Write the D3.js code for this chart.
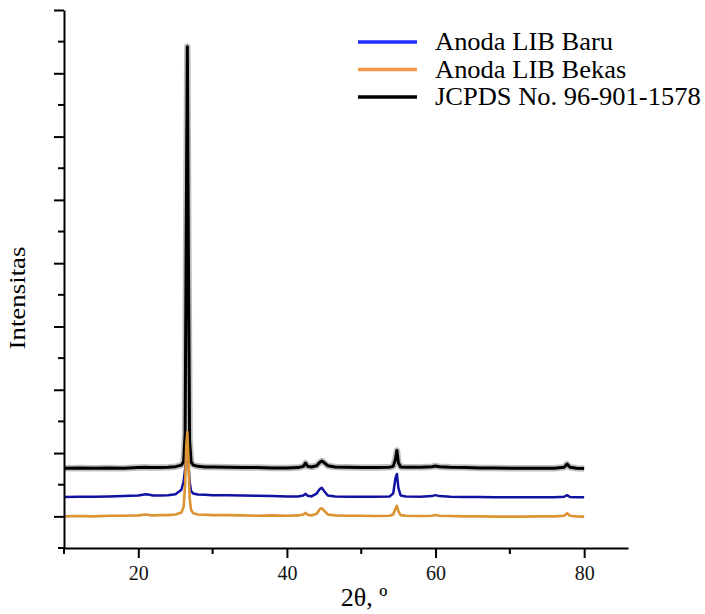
<!DOCTYPE html>
<html>
<head>
<meta charset="utf-8">
<script src="https://cdn.jsdelivr.net/npm/d3@7"></script>
<style>
  body { margin: 0; background: #fff; }
  svg { display: block; }
  svg text { font-family: "Liberation Serif", "Times New Roman", Times, serif; }
</style>
</head>
<body>
<div id="chart"></div>
<script>
// 2θ positions (degrees) shared by all three patterns
const twoTheta = [10, 12, 14, 16, 18, 20, 21, 21.5, 22, 23, 24, 25, 25.8, 26.1, 26.3, 26.45, 26.6, 26.75, 26.9, 27.1, 27.4, 28, 29, 30, 32, 34, 36, 38, 40, 41.5, 42.2, 42.5, 42.8, 43.3, 44, 44.4, 44.7, 45.0, 45.5, 46.5, 48, 50, 52, 53.8, 54.3, 54.6, 54.8, 55.0, 55.3, 56, 58, 59.5, 60, 60.5, 62, 64, 66, 68, 70, 72, 74, 76, 77.3, 77.7, 78.1, 79, 80];

// intensities (arbitrary units, offset stacked)
const jcpds = [0.76, 0.765, 0.76, 0.765, 0.76, 0.77, 0.775, 0.77, 0.77, 0.77, 0.775, 0.785, 0.81, 0.86, 1.3, 4.5, 7.42, 4.0, 1.2, 0.86, 0.81, 0.79, 0.78, 0.78, 0.775, 0.77, 0.77, 0.765, 0.765, 0.77, 0.79, 0.84, 0.79, 0.78, 0.80, 0.85, 0.875, 0.85, 0.80, 0.78, 0.775, 0.77, 0.77, 0.775, 0.79, 0.9, 1.04, 0.85, 0.78, 0.775, 0.775, 0.785, 0.795, 0.785, 0.775, 0.77, 0.765, 0.765, 0.76, 0.76, 0.76, 0.76, 0.775, 0.825, 0.775, 0.76, 0.755];

const baru = [0.305, 0.31, 0.31, 0.315, 0.32, 0.33, 0.35, 0.34, 0.33, 0.33, 0.335, 0.35, 0.42, 0.55, 0.75, 0.95, 1.0, 0.85, 0.55, 0.4, 0.36, 0.345, 0.34, 0.335, 0.335, 0.33, 0.325, 0.32, 0.315, 0.315, 0.33, 0.355, 0.325, 0.315, 0.36, 0.43, 0.45, 0.40, 0.33, 0.315, 0.31, 0.31, 0.31, 0.315, 0.36, 0.6, 0.67, 0.45, 0.33, 0.315, 0.31, 0.32, 0.335, 0.32, 0.31, 0.305, 0.305, 0.3, 0.3, 0.3, 0.3, 0.3, 0.31, 0.335, 0.305, 0.3, 0.3];

const bekas = [0.0, 0.005, 0.0, 0.01, 0.01, 0.015, 0.03, 0.02, 0.015, 0.02, 0.02, 0.03, 0.06, 0.15, 0.5, 1.1, 1.33, 0.9, 0.3, 0.1, 0.05, 0.03, 0.025, 0.02, 0.02, 0.015, 0.01, 0.015, 0.01, 0.015, 0.03, 0.055, 0.025, 0.015, 0.04, 0.11, 0.13, 0.09, 0.03, 0.015, 0.01, 0.01, 0.005, 0.01, 0.03, 0.12, 0.165, 0.08, 0.02, 0.01, 0.005, 0.01, 0.02, 0.01, 0.005, 0.0, 0.0, -0.005, -0.005, -0.005, 0.0, 0.0, 0.01, 0.05, 0.01, 0.0, -0.005];

const legendLabels = ["Anoda LIB Baru", "Anoda LIB Bekas", "JCPDS No. 96-901-1578"];
const xMajorTicks = [20, 40, 60, 80];
const xMinorTicks = [10, 30, 50, 70];

const width = 705, height = 614;
const margin = { top: 10, right: 77, bottom: 66, left: 64 };
const serif = '"Liberation Serif", "Times New Roman", Times, serif';

const svg = d3.select("#chart").append("svg")
  .attr("width", width)
  .attr("height", height);

const x = d3.scaleLinear().domain([10, 85.9]).range([margin.left, width - margin.right]);
const y = d3.scaleLinear().domain([-0.5, 8]).range([height - margin.bottom, margin.top]);

// series: drawn black first, orange on top
const series = [
  { values: jcpds, color: "#000", width: 3, halo: true },
  { values: baru, color: "#1212a2", width: 2.5 },
  { values: bekas, color: "#dc9432", width: 2.6 }
];

const line = d3.line()
  .x((d, i) => x(twoTheta[i]))
  .y(d => y(d));

series.forEach(s => {
  if (s.halo) {
    svg.append("path")
      .attr("d", line(s.values))
      .attr("fill", "none")
      .attr("stroke", "#000")
      .attr("stroke-opacity", 0.25)
      .attr("stroke-width", 6.5)
      .attr("stroke-linejoin", "round");
  }
  svg.append("path")
    .attr("d", line(s.values))
    .attr("fill", "none")
    .attr("stroke", s.color)
    .attr("stroke-width", s.width)
    .attr("stroke-linejoin", "round");
});

// x axis
const xAxis = svg.append("g")
  .attr("transform", `translate(0,${y(-0.5)})`)
  .call(d3.axisBottom(x).tickValues(xMajorTicks).tickSize(10).tickSizeOuter(0).tickPadding(8));
xAxis.append("g").selectAll("line")
  .data(xMinorTicks)
  .join("line")
  .attr("x1", d => x(d)).attr("x2", d => x(d))
  .attr("y1", 0).attr("y2", 6)
  .attr("stroke", "#000").attr("stroke-width", 2);

// y axis, ticks without labels
const yAxis = svg.append("g")
  .attr("transform", `translate(${x(10)},0)`)
  .call(d3.axisLeft(y).tickValues(d3.range(0, 9)).tickSize(10).tickSizeOuter(0).tickFormat(""));
yAxis.append("g").selectAll("line")
  .data(d3.range(-0.5, 8, 1))
  .join("line")
  .attr("x1", 0).attr("x2", -6)
  .attr("y1", d => y(d)).attr("y2", d => y(d))
  .attr("stroke", "#000").attr("stroke-width", 2);

svg.selectAll(".domain").attr("stroke", "#000").attr("stroke-width", 2);
svg.selectAll(".tick line").attr("stroke", "#000").attr("stroke-width", 2);
xAxis.attr("font-family", serif);
xAxis.selectAll(".tick text")
  .attr("font-family", serif)
  .attr("font-size", 20)
  .attr("fill", "#111");

// axis titles
svg.append("text")
  .attr("x", 364).attr("y", 606)
  .attr("text-anchor", "middle")
  .attr("font-family", serif)
  .attr("font-size", 26)
  .text("2θ, º");

svg.append("text")
  .attr("transform", "translate(25,298) rotate(-90) scale(1.12,1)")
  .attr("text-anchor", "middle")
  .attr("font-family", serif)
  .attr("font-size", 24)
  .text("Intensitas");

// legend
const legendColors = ["#1f2eff", "#f59a4c", "#000"];
const legend = svg.append("g");
legendLabels.forEach((label, i) => {
  const ly = 42 + i * 27.5;
  legend.append("line")
    .attr("x1", 358).attr("x2", 417)
    .attr("y1", ly).attr("y2", ly)
    .attr("stroke", legendColors[i])
    .attr("stroke-width", 3.5);
  legend.append("text")
    .attr("transform", `translate(435,${ly + 8}) scale(1.06,1)`)
    .attr("font-family", serif)
    .attr("font-size", 25)
    .attr("fill", "#000")
    .text(label);
});
</script>
</body>
</html>
